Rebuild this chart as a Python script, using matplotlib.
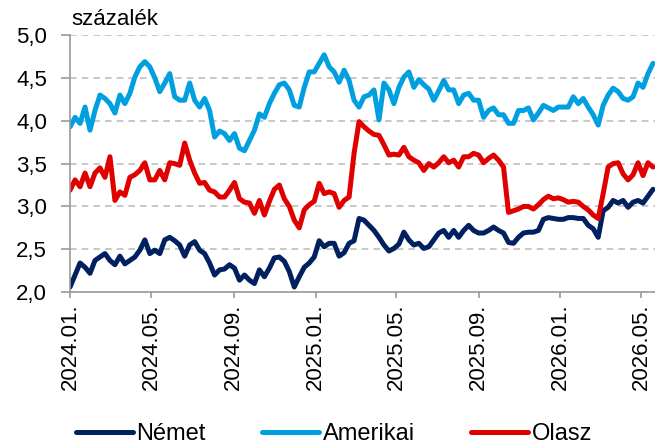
import numpy as np
import pandas as pd
import matplotlib
matplotlib.use('Agg')
import matplotlib.pyplot as plt
import matplotlib.dates as mdates

# roughly weekly readings, 2024-01-01 .. 2026-05-19
start_date = '2024-01-01'
last_date = '2026-05-19'
end_date = '2026-05-22'

nemet = [2.06, 2.20, 2.34, 2.29, 2.22, 2.37, 2.41, 2.45, 2.37, 2.32,
         2.42, 2.33, 2.37, 2.41, 2.49, 2.61, 2.45, 2.49, 2.45, 2.61,
         2.64, 2.60, 2.55, 2.42, 2.55, 2.59, 2.49, 2.45, 2.34, 2.20,
         2.26, 2.27, 2.32, 2.28, 2.14, 2.20, 2.14, 2.10, 2.26, 2.18,
         2.28, 2.40, 2.41, 2.36, 2.24, 2.06, 2.18, 2.29, 2.34, 2.41,
         2.60, 2.53, 2.57, 2.57, 2.42, 2.46, 2.57, 2.60, 2.86, 2.84,
         2.78, 2.72, 2.64, 2.55, 2.48, 2.51, 2.56, 2.70, 2.61, 2.55,
         2.57, 2.51, 2.53, 2.61, 2.69, 2.72, 2.64, 2.72, 2.64, 2.72,
         2.78, 2.72, 2.69, 2.69, 2.72, 2.76, 2.72, 2.69, 2.58, 2.57,
         2.64, 2.69, 2.70, 2.70, 2.72, 2.85, 2.87, 2.86, 2.85, 2.85,
         2.87, 2.87, 2.86, 2.86, 2.78, 2.74, 2.64, 2.95, 2.99, 3.07,
         3.04, 3.07, 2.99, 3.05, 3.07, 3.04, 3.12, 3.20]

amerikai = [3.93, 4.04, 3.97, 4.16, 3.89, 4.12, 4.30, 4.26, 4.20, 4.09,
            4.30, 4.20, 4.32, 4.51, 4.63, 4.69, 4.63, 4.50, 4.34, 4.44,
            4.55, 4.28, 4.24, 4.24, 4.44, 4.24, 4.16, 4.26, 4.12, 3.81,
            3.88, 3.85, 3.77, 3.85, 3.68, 3.65, 3.77, 3.89, 4.08, 4.04,
            4.20, 4.32, 4.42, 4.44, 4.36, 4.18, 4.16, 4.39, 4.57, 4.57,
            4.67, 4.77, 4.63, 4.57, 4.45, 4.59, 4.47, 4.24, 4.16, 4.28,
            4.30, 4.36, 4.01, 4.44, 4.36, 4.20, 4.39, 4.51, 4.57, 4.39,
            4.48, 4.42, 4.37, 4.24, 4.35, 4.47, 4.36, 4.36, 4.20, 4.30,
            4.32, 4.24, 4.24, 4.04, 4.12, 4.15, 4.07, 4.07, 3.97, 3.97,
            4.12, 4.12, 4.15, 4.01, 4.09, 4.18, 4.15, 4.12, 4.16, 4.16,
            4.16, 4.28, 4.20, 4.26, 4.16, 4.07, 3.95, 4.18, 4.30, 4.38,
            4.34, 4.26, 4.24, 4.28, 4.44, 4.39, 4.55, 4.67]

olasz = [3.19, 3.31, 3.23, 3.39, 3.23, 3.39, 3.45, 3.34, 3.58, 3.07,
         3.17, 3.13, 3.34, 3.37, 3.42, 3.51, 3.31, 3.31, 3.42, 3.31,
         3.51, 3.50, 3.48, 3.74, 3.54, 3.39, 3.27, 3.28, 3.19, 3.17,
         3.11, 3.11, 3.19, 3.28, 3.09, 3.05, 3.04, 2.92, 3.07, 2.90,
         3.06, 3.20, 3.25, 3.09, 3.00, 2.84, 2.75, 2.96, 3.02, 3.06,
         3.27, 3.15, 3.17, 3.15, 2.99, 3.07, 3.11, 3.62, 3.99, 3.93,
         3.88, 3.84, 3.83, 3.72, 3.60, 3.61, 3.60, 3.69, 3.58, 3.54,
         3.51, 3.42, 3.50, 3.46, 3.51, 3.58, 3.51, 3.54, 3.46, 3.58,
         3.58, 3.62, 3.60, 3.51, 3.56, 3.60, 3.54, 3.46, 2.93, 2.95,
         2.97, 3.00, 3.00, 2.97, 3.02, 3.08, 3.12, 3.09, 3.10, 3.08,
         3.05, 3.06, 3.05, 3.00, 2.96, 2.90, 2.86, 3.15, 3.46, 3.50,
         3.51, 3.38, 3.31, 3.37, 3.51, 3.36, 3.51, 3.46]

series_names = ['Német', 'Amerikai', 'Olasz']
series_colors = ['#002060', '#00a0e0', '#e00000']
y_ticks = [2.0, 2.5, 3.0, 3.5, 4.0, 4.5, 5.0]

dates = pd.date_range(start_date, last_date, periods=len(nemet))

plt.rcParams['font.family'] = ['Liberation Sans', 'DejaVu Sans']

fig = plt.figure(figsize=(6.55, 4.44), dpi=100)
ax = fig.add_axes([0.107, 0.342, 0.893, 0.579])

for vals, name, col in zip([nemet, amerikai, olasz], series_names, series_colors):
    ax.plot(dates, vals, color=col, lw=3.6, label=name,
            solid_joinstyle='round', solid_capstyle='round')

ax.set_ylim(2.0, 5.0)
ax.set_yticks(y_ticks)
ax.set_yticklabels([f"{v:.1f}".replace('.', ',') for v in y_ticks])
ax.set_xlim(pd.Timestamp(start_date), pd.Timestamp(end_date))
ax.xaxis.set_major_locator(mdates.MonthLocator(bymonth=[1, 5, 9]))
ax.xaxis.set_major_formatter(mdates.DateFormatter('%Y.%m.'))
plt.setp(ax.get_xticklabels(), rotation=90)

ax.grid(axis='y', color='#bfbfbf', linestyle=(0, (4, 3)), linewidth=1.2)
ax.set_axisbelow(True)
for s in ['top', 'right']:
    ax.spines[s].set_visible(False)
for s in ['left', 'bottom']:
    ax.spines[s].set_color('#999999')
    ax.spines[s].set_linewidth(1.2)
ax.tick_params(axis='both', labelsize=16, color='#999999', width=1.2)
ax.tick_params(axis='y', length=6.5, pad=10)
ax.tick_params(axis='x', length=4, pad=4)

ax.text(0.002, 1.02, 'százalék', transform=ax.transAxes, fontsize=16, ha='left', va='bottom')

fig.legend(loc='lower center', bbox_to_anchor=(0.51, -0.05), ncol=3, frameon=False,
           fontsize=17, handlelength=2.4, columnspacing=2.4, handletextpad=0.15)

plt.savefig('out.png', dpi=100)
